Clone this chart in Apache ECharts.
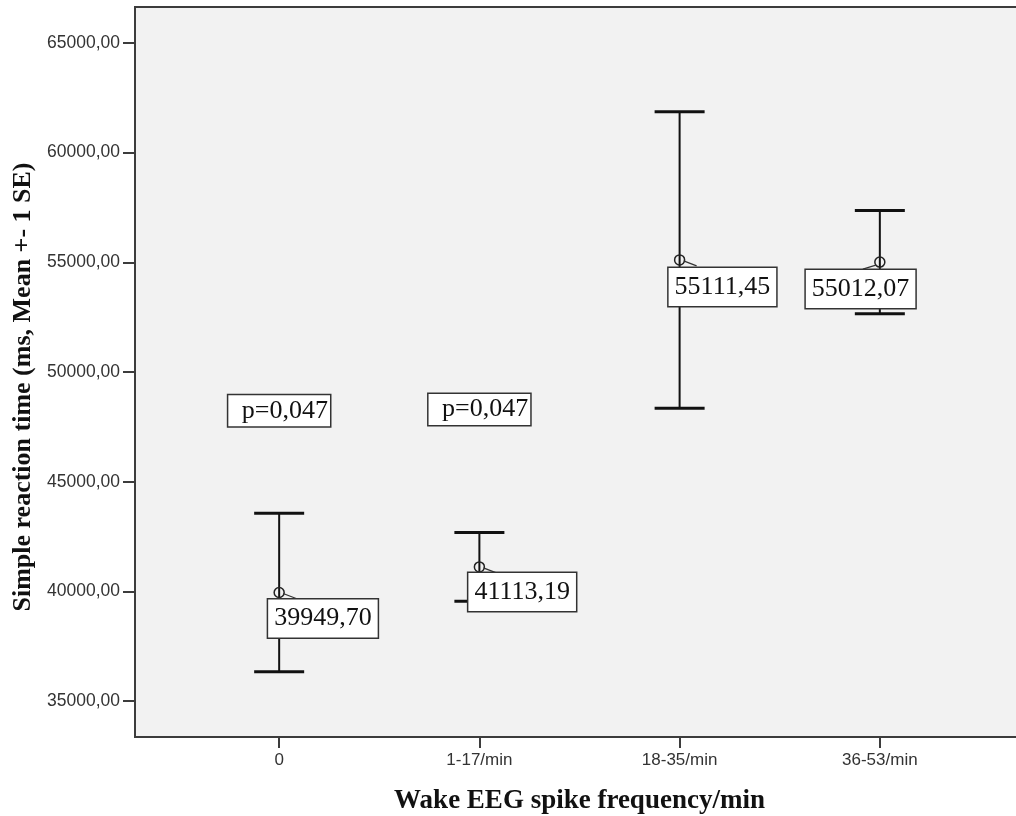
<!DOCTYPE html>
<html>
<head>
<meta charset="utf-8">
<script src="https://cdn.jsdelivr.net/npm/echarts@6/dist/echarts.min.js"></script>
<style>
html, body { margin: 0; padding: 0; background: #fff; overflow: hidden; }
#main { width: 1024px; height: 816px; }
</style>
</head>
<body>
<div id="main"></div>
<script>
var categories = ['0', '1-17/min', '18-35/min', '36-53/min'];
var means = [39949.70, 41113.19, 55111.45, 55012.07];
var upper = [43560, 42680, 61870, 57360];
var lower = [36340, 39550, 48350, 52660];
var yTicks = [35000, 40000, 45000, 50000, 55000, 60000, 65000];
var pNotes = ['p=0,047', 'p=0,047'];
var pNoteLevel = [48230, 48290];

// where each value box sits relative to its mean point (px)
var boxShift = [[-11, 7], [-11, 6], [-11, 8], [-74, 8]];

function comma(v) {
    return v.toFixed(2).replace('.', ',');
}

var barData = [];
for (var i = 0; i < means.length; i++) {
    barData.push([i, upper[i], lower[i], means[i]]);
}
var noteData = [];
for (var j = 0; j < pNotes.length; j++) {
    noteData.push({value: [j, pNoteLevel[j]], name: pNotes[j]});
}

function renderBar(params, api) {
    var x = api.value(0);
    var top = api.coord([x, api.value(1)]);
    var bot = api.coord([x, api.value(2)]);
    var mid = api.coord([x, api.value(3)]);
    var hw = 25;
    var sh = boxShift[params.dataIndex];
    var left = sh[0] < -30;
    var ink = '#111';
    return {
        type: 'group',
        children: [
            {type: 'line', shape: {x1: top[0], y1: top[1], x2: bot[0], y2: bot[1]}, style: {stroke: ink, lineWidth: 2}},
            {type: 'line', shape: {x1: top[0] - hw, y1: top[1], x2: top[0] + hw, y2: top[1]}, style: {stroke: ink, lineWidth: 3}},
            {type: 'line', shape: {x1: bot[0] - hw, y1: bot[1], x2: bot[0] + hw, y2: bot[1]}, style: {stroke: ink, lineWidth: 3}},
            {type: 'circle', shape: {cx: mid[0], cy: mid[1], r: 5}, style: {fill: null, stroke: '#222', lineWidth: 1.5}},
            {
                type: 'line',
                shape: left
                    ? {x1: mid[0] - 4, y1: mid[1] + 3, x2: mid[0] - 17, y2: mid[1] + 7}
                    : {x1: mid[0] + 4, y1: mid[1] + 1, x2: mid[0] + 17, y2: mid[1] + 6},
                style: {stroke: '#333', lineWidth: 1.2}
            },
            {
                type: 'text',
                x: mid[0] + sh[0],
                y: mid[1] + sh[1],
                style: {
                    text: comma(api.value(3)),
                    font: '26px "Liberation Serif"',
                    fill: ink,
                    align: 'left',
                    verticalAlign: 'top',
                    backgroundColor: '#fff',
                    borderColor: '#333',
                    borderWidth: 1.5,
                    padding: [6, 6, 6, 6]
                }
            }
        ]
    };
}

var chart = echarts.init(document.getElementById('main'));
var option = {
    animation: false,
    grid: {
        left: 135, top: 7, right: 0, bottom: 79,
        outerBoundsMode: 'none',
        containLabel: false,
        show: true,
        backgroundColor: '#f2f2f2',
        borderColor: '#3c3c3c',
        borderWidth: 2
    },
    xAxis: {
        type: 'value',
        min: -0.72,
        max: 3.72,
        name: 'Wake EEG spike frequency/min',
        nameLocation: 'middle',
        nameGap: 51,
        nameTextStyle: {fontFamily: 'Liberation Serif', fontWeight: 'bold', fontSize: 27, color: '#111'},
        axisLine: {onZero: false, lineStyle: {color: '#3c3c3c', width: 2}},
        axisTick: {customValues: [0, 1, 2, 3], length: 11, lineStyle: {color: '#3c3c3c', width: 2}},
        axisLabel: {
            customValues: [0, 1, 2, 3],
            margin: 15,
            fontFamily: 'Liberation Sans',
            fontSize: 17,
            color: '#333',
            formatter: function (v) { return categories[Math.round(v)]; }
        },
        splitLine: {show: false}
    },
    yAxis: {
        type: 'value',
        min: 33360,
        max: 66640,
        name: 'Simple reaction time (ms, Mean +- 1 SE)',
        nameLocation: 'middle',
        nameGap: 96,
        nameTextStyle: {fontFamily: 'Liberation Serif', fontWeight: 'bold', fontSize: 26, color: '#111', padding: [0, 30, 0, 0]},
        axisLine: {onZero: false, lineStyle: {color: '#3c3c3c', width: 2}},
        axisTick: {customValues: yTicks, length: 12, lineStyle: {color: '#3c3c3c', width: 2}},
        axisLabel: {
            customValues: yTicks,
            margin: 15,
            fontFamily: 'Liberation Sans',
            fontSize: 17.5,
            color: '#333',
            formatter: comma
        },
        splitLine: {show: false}
    },
    series: [
        {
            type: 'custom',
            renderItem: renderBar,
            data: barData,
            z: 3
        },
        {
            type: 'scatter',
            symbolSize: 0,
            data: noteData,
            z: 4,
            itemStyle: {opacity: 1},
            label: {
                show: true,
                position: 'inside',
                formatter: ' {b}',
                fontFamily: 'Liberation Serif',
                fontSize: 26,
                color: '#111',
                backgroundColor: '#fff',
                borderColor: '#333',
                borderWidth: 1.5,
                padding: [3, 2, 2, 7]
            }
        }
    ]
};
chart.setOption(option);
</script>
</body>
</html>
